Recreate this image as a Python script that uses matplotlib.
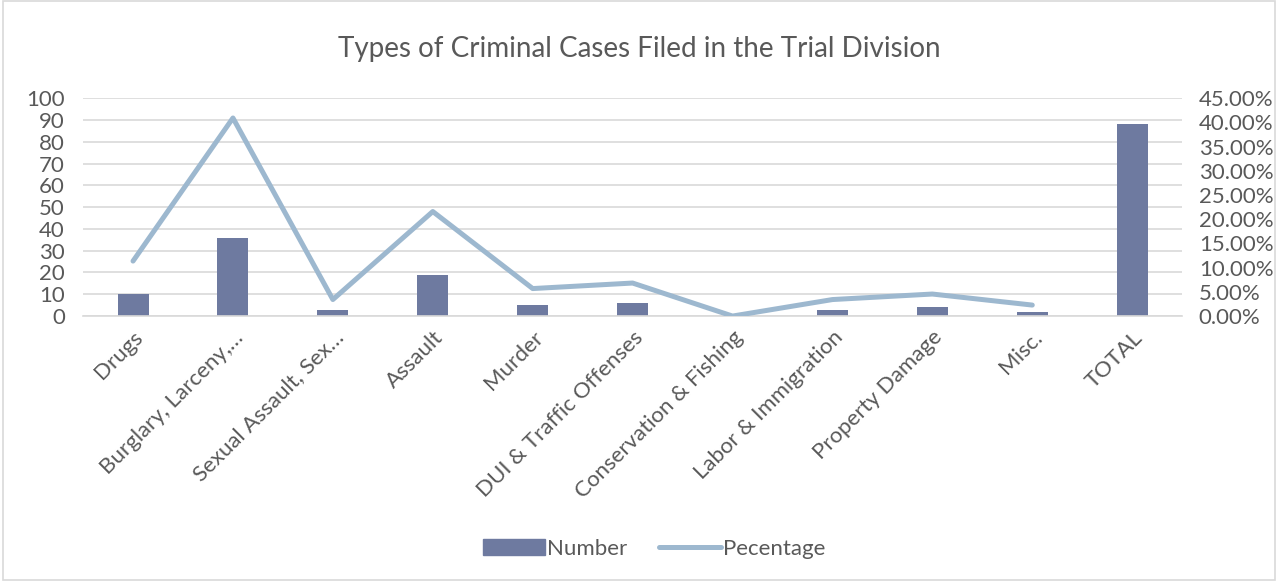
import numpy as np
import matplotlib.pyplot as plt
from matplotlib.patches import Rectangle
from matplotlib.ticker import PercentFormatter

plt.rcParams['font.family'] = ['Lato', 'DejaVu Sans']

categories = ["Drugs", "Burglary, Larceny,\u2026", "Sexual Assault, Sex\u2026", "Assault",
              "Murder", "DUI & Traffic Offenses", "Conservation & Fishing",
              "Labor & Immigration", "Property Damage", "Misc.", "TOTAL"]
numbers = [10, 36, 3, 19, 5, 6, 0, 3, 4, 2, 88]
# percentage of total, no value for the TOTAL column
percentages = [11.36, 40.91, 3.41, 21.59, 5.68, 6.82, 0.0, 3.41, 4.55, 2.27, np.nan]

bar_color = "#6E7AA0"
line_color = "#9DB8CF"
text_color = "#595959"
grid_color = "#D9D9D9"

fig = plt.figure(figsize=(12.78, 5.81), dpi=100)
ax = fig.add_axes([0.065, 0.456, 0.860, 0.375])
ax2 = ax.twinx()

x = np.arange(len(categories))
ax.bar(x, numbers, width=0.31, color=bar_color, zorder=2)
ax2.plot(x, percentages, color=line_color, lw=3.6, solid_capstyle='round', zorder=3)

ax.set_xlim(-0.5, len(categories) - 0.5)
ax.set_ylim(0, 100)
ax.set_yticks(np.arange(0, 101, 10))
ax2.set_ylim(0, 45)
ax2.set_yticks(np.arange(0, 46, 5))
ax2.yaxis.set_major_formatter(PercentFormatter(decimals=2))

ax.grid(axis='y', color=grid_color, lw=1.2, zorder=0)
ax.set_axisbelow(True)
for a in (ax, ax2):
    for s in a.spines.values():
        s.set_visible(False)
    a.tick_params(length=0, labelsize=16, colors=text_color)
ax.tick_params(axis='y', pad=13)
ax2.tick_params(axis='y', pad=12)
ax.spines['bottom'].set_visible(True)
ax.spines['bottom'].set_color(grid_color)
ax.spines['bottom'].set_linewidth(1.2)

ax.set_xticks(x)
ax.set_xticklabels(categories, rotation=45, ha='right', rotation_mode='anchor')
ax.tick_params(axis='x', pad=8)

fig.suptitle("Types of Criminal Cases Filed in the Trial Division", y=0.938,
             fontsize=20, color=text_color)

handles = [Rectangle((0, 0), 1, 1, color=bar_color),
           plt.Line2D([], [], color=line_color, lw=3.6, solid_capstyle='round')]
fig.legend(handles, ["Number", "Pecentage"], loc='center', bbox_to_anchor=(0.512, 0.055),
           ncol=2, frameon=False, fontsize=16, labelcolor=text_color,
           handlelength=2.8, handletextpad=0.1, columnspacing=1.4)

fig.patches.append(Rectangle((0.002, 0.002), 0.996, 0.996, transform=fig.transFigure,
                             fill=False, edgecolor="#D9D9D9", lw=1.2))

fig.savefig("out.png", dpi=100)
